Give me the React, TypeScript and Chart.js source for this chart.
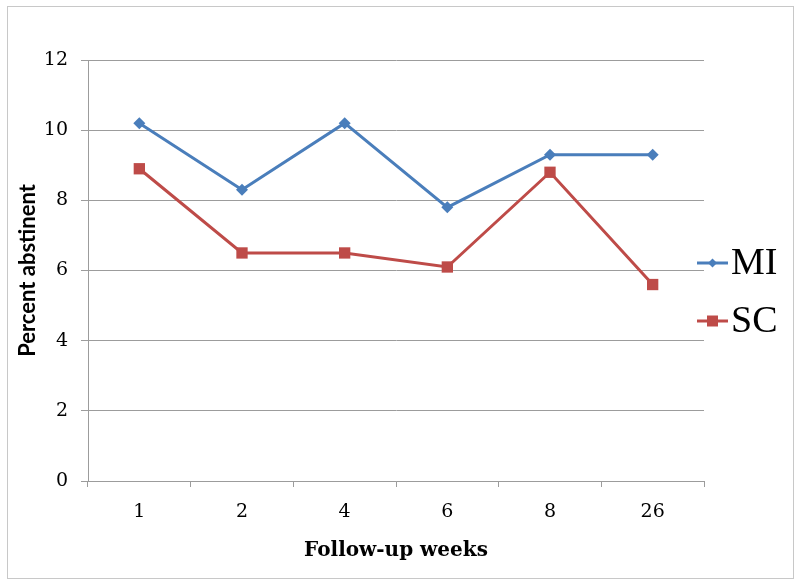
import React, { useEffect, useRef } from "react";
import { Chart, registerables } from "chart.js";

Chart.register(...registerables);

const categories = ["1", "2", "4", "6", "8", "26"];
const miValues = [10.2, 8.3, 10.2, 7.8, 9.3, 9.3];
const scValues = [8.9, 6.5, 6.5, 6.1, 8.8, 5.6];
const seriesNames = ["MI", "SC"];
const yMin = 0;
const yMax = 12;
const yStep = 2;
const xTitle = "Follow-up weeks";
const yTitle = "Percent abstinent";

const BLUE = "#4a7ebb";
const RED = "#be4b48";
const GRID = "#9c9c9c";
const FONT = "'DejaVu Serif', 'Liberation Serif', serif";
const LEGEND_FONT = "'Liberation Serif', 'DejaVu Serif', serif";
const SANS = "Lato, 'Open Sans', sans-serif";

const legendPlugin = {
  id: "sideLegend",
  afterDraw(chart: any) {
    const ctx = chart.ctx;
    const area = chart.chartArea;
    const x0 = area.right - 7;
    const lineLen = 31;
    const rows = [area.top + 203, area.top + 261];
    ctx.save();
    chart.data.datasets.forEach((ds: any, i: number) => {
      const y = rows[i];
      ctx.strokeStyle = ds.borderColor;
      ctx.lineWidth = 3;
      ctx.beginPath();
      ctx.moveTo(x0, y);
      ctx.lineTo(x0 + lineLen, y);
      ctx.stroke();
      const cx = x0 + lineLen / 2;
      ctx.fillStyle = ds.backgroundColor;
      ctx.beginPath();
      if (ds.pointStyle === "rectRot") {
        const r = 4.5;
        ctx.moveTo(cx, y - r);
        ctx.lineTo(cx + r, y);
        ctx.lineTo(cx, y + r);
        ctx.lineTo(cx - r, y);
        ctx.closePath();
      } else {
        const s = 5.5;
        ctx.rect(cx - s, y - s, 2 * s, 2 * s);
      }
      ctx.fill();
      ctx.fillStyle = "#000";
      ctx.font = `38px ${LEGEND_FONT}`;
      ctx.textBaseline = "middle";
      ctx.textAlign = "left";
      ctx.fillText(ds.label, x0 + lineLen + 3, y + 1);
    });
    ctx.restore();
  },
};

export default function App() {
  const ref = useRef<HTMLCanvasElement | null>(null);

  useEffect(() => {
    if (!ref.current) return;
    const chart = new Chart(ref.current, {
      type: "line",
      data: {
        labels: categories,
        datasets: [
          {
            label: seriesNames[0],
            data: miValues,
            borderColor: BLUE,
            backgroundColor: BLUE,
            borderWidth: 3,
            pointStyle: "rectRot",
            pointRadius: 6,
            pointHoverRadius: 6,
            pointBorderWidth: 0,
            tension: 0,
          },
          {
            label: seriesNames[1],
            data: scValues,
            borderColor: RED,
            backgroundColor: RED,
            borderWidth: 3,
            pointStyle: "rect",
            pointRadius: 8,
            pointHoverRadius: 8,
            pointBorderWidth: 0,
            tension: 0,
          },
        ],
      },
      options: {
        responsive: false,
        animation: false,
        layout: { padding: { left: 0, top: 60, right: 96, bottom: 0 } },
        plugins: {
          legend: { display: false },
          tooltip: { enabled: false },
        },
        scales: {
          x: {
            type: "category",
            offset: true,
            afterFit: (s: any) => {
              s.height = 104;
            },
            grid: {
              offset: true,
              drawOnChartArea: false,
              drawTicks: true,
              tickLength: 6,
              color: GRID,
            },
            border: { display: true, color: GRID, width: 1 },
            ticks: {
              color: "#000",
              font: { family: FONT, size: 19 },
              padding: 14,
              maxRotation: 0,
            },
            title: {
              display: true,
              text: xTitle,
              color: "#000",
              font: { family: FONT, size: 20, weight: "bold" },
              padding: { top: 0, bottom: 22 },
            },
          },
          y: {
            min: yMin,
            max: yMax,
            afterFit: (s: any) => {
              s.width = 88;
            },
            grid: {
              color: GRID,
              tickLength: 7,
              drawTicks: true,
            },
            border: { display: true, color: GRID, width: 1 },
            ticks: {
              stepSize: yStep,
              color: "#000",
              font: { family: FONT, size: 19 },
              padding: 13,
            },
            title: {
              display: true,
              text: yTitle,
              color: "#000",
              font: { family: SANS, size: 22, weight: "bold" },
              padding: { top: 15, bottom: 0 },
            },
          },
        },
      },
      plugins: [legendPlugin],
    });
    return () => chart.destroy();
  }, []);

  return (
    <div
      style={{
        position: "fixed",
        left: 0,
        top: 0,
        width: 800,
        height: 585,
        background: "#fff",
      }}
    >
      <canvas ref={ref} width={800} height={585} style={{ display: "block" }} />
      <div
        style={{
          position: "absolute",
          left: 7,
          top: 6,
          width: 785,
          height: 571,
          border: "1px solid #c8c8c8",
          pointerEvents: "none",
        }}
      />
    </div>
  );
}
